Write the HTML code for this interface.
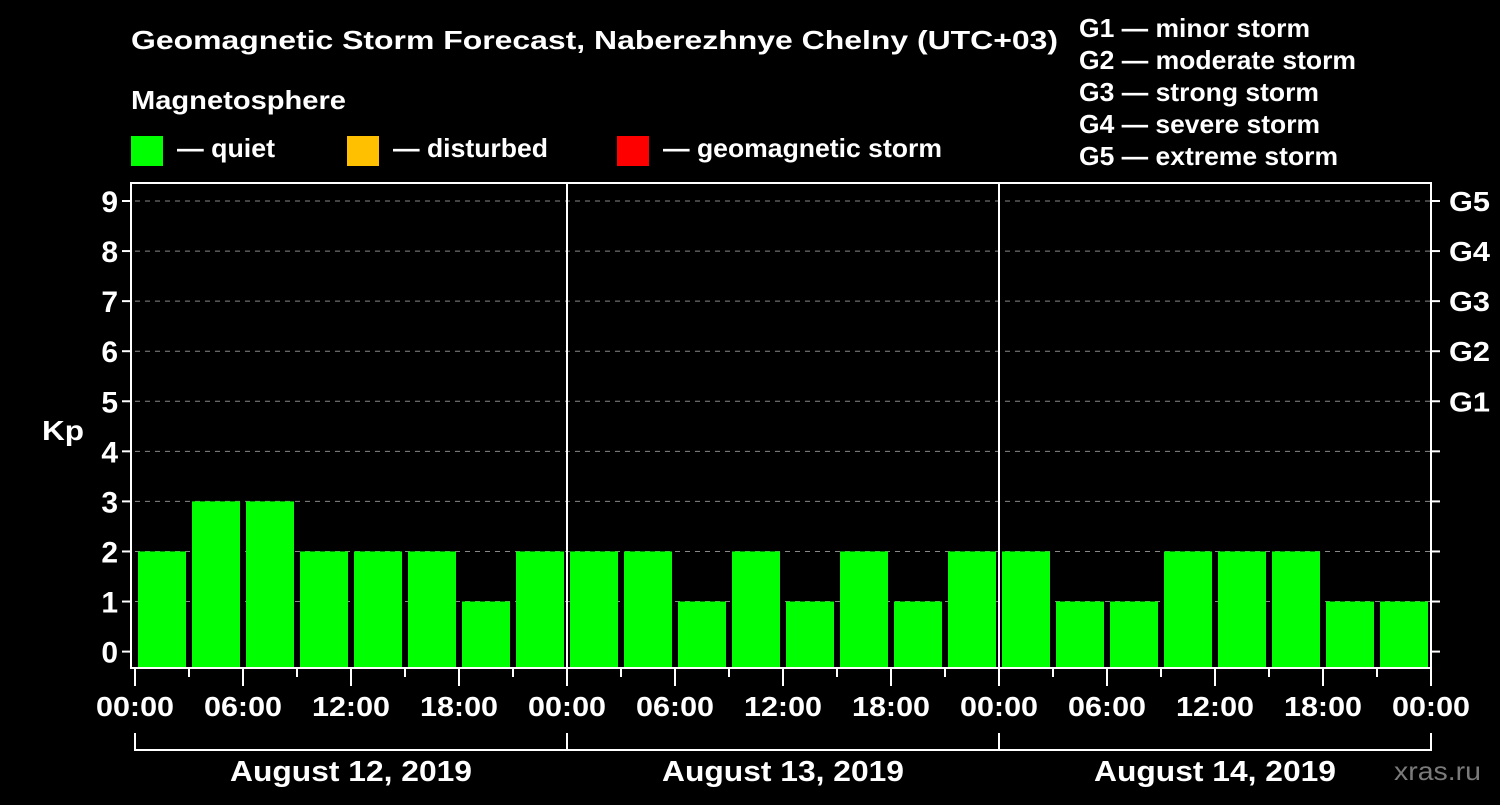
<!DOCTYPE html>
<html><head><meta charset="utf-8"><style>
body{margin:0;background:#000;}
svg text{font-family:"Liberation Sans",Arial,sans-serif;font-weight:bold;fill:#fff;}
</style></head><body>
<svg id="c" width="1500" height="800" xmlns="http://www.w3.org/2000/svg">
<rect width="1500" height="800" fill="#000"/>
<text x="131" y="49" font-size="26" textLength="927" lengthAdjust="spacingAndGlyphs">Geomagnetic Storm Forecast, Naberezhnye Chelny (UTC+03)</text>
<text x="131" y="109" font-size="26" textLength="215" lengthAdjust="spacingAndGlyphs">Magnetosphere</text>
<g><rect x="131" y="136" width="32" height="30" fill="#00ff00"/><text x="177" y="157" font-size="26" textLength="98" lengthAdjust="spacingAndGlyphs">— quiet</text></g>
<g><rect x="347" y="136" width="32" height="30" fill="#ffc000"/><text x="393" y="157" font-size="26" textLength="155" lengthAdjust="spacingAndGlyphs">— disturbed</text></g>
<g><rect x="617" y="136" width="32" height="30" fill="#ff0000"/><text x="663" y="157" font-size="26" textLength="279" lengthAdjust="spacingAndGlyphs">— geomagnetic storm</text></g>
<g font-size="26">
<text x="1079" y="37" textLength="231" lengthAdjust="spacingAndGlyphs">G1 — minor storm</text>
<text x="1079" y="69" textLength="277" lengthAdjust="spacingAndGlyphs">G2 — moderate storm</text>
<text x="1079" y="101" textLength="240" lengthAdjust="spacingAndGlyphs">G3 — strong storm</text>
<text x="1079" y="133" textLength="241" lengthAdjust="spacingAndGlyphs">G4 — severe storm</text>
<text x="1079" y="165" textLength="259" lengthAdjust="spacingAndGlyphs">G5 — extreme storm</text>
</g>
<text x="42" y="440" font-size="28" textLength="42" lengthAdjust="spacingAndGlyphs">Kp</text>
<text x="1394" y="780" font-size="26" textLength="87" lengthAdjust="spacingAndGlyphs" style="fill:#7a7a7a;font-weight:normal">xras.ru</text>
<g id="plot"></g>
</svg>
<script>
const days = ["August 12, 2019","August 13, 2019","August 14, 2019"];
const kpValues = [2,3,3,2,2,2,1,2, 2,2,1,2,1,2,1,2, 2,1,1,2,2,2,1,1];
const yTicks = [0,1,2,3,4,5,6,7,8,9];
const gLabels = ["G1","G2","G3","G4","G5"];
const gLevels = [5,6,7,8,9];
const hourLabels = ["00:00","06:00","12:00","18:00"];

const NS="http://www.w3.org/2000/svg";
const g=document.getElementById('plot');
const X0=135, X1=1431, TOP=183, BOT=668;
const xs=i=>X0+(X1-X0)*i/kpValues.length;
const ys=v=>651.6-v*(651.6-201)/9;
function el(t,a,p){const e=document.createElementNS(NS,t);for(const k in a)e.setAttribute(k,a[k]);(p||g).appendChild(e);return e;}

yTicks.forEach(v=>{
  if(v>0){const l=el('line',{x1:X0,x2:X1,y1:ys(v),y2:ys(v),stroke:'#888','stroke-dasharray':'5,5','stroke-width':1});
  
  }
  const t=el('line',{x1:122,x2:131,y1:ys(v),y2:ys(v),stroke:'#fff','stroke-width':2});
  
  
  const r=el('line',{x1:X1,x2:X1+9,y1:ys(v),y2:ys(v),stroke:'#fff','stroke-width':2});
  
  
  const tx=el('text',{x:118,y:ys(v)+11,'font-size':30,'text-anchor':'end'});
  tx.textContent=v;
  
  
});
gLabels.forEach((lab,i)=>{
  const tx=el('text',{x:1449,y:ys(gLevels[i])+10,'font-size':28,textLength:41,lengthAdjust:'spacingAndGlyphs'});
  tx.textContent=lab;
  
  
});
const slot=(X1-X0)/kpValues.length;
kpValues.forEach((v,i)=>{
  const col=v>=5?'#ff0000':(v>=4?'#ffc000':'#00ff00');
  const b=el('rect',{x:xs(i)+3,y:ys(v),width:slot-6,height:BOT-ys(v),fill:col});
  
  
});
const f=el('rect',{x:131,y:TOP,width:X1-131,height:BOT-TOP,fill:'none',stroke:'#fff','stroke-width':2});


const ticks=kpValues.length;
for(let d=1;d<days.length;d++){
  const x=X0+(X1-X0)*d/days.length;
  const l=el('line',{x1:x,x2:x,y1:TOP,y2:BOT,stroke:'#fff','stroke-width':2});
  
  
}
for(let i=0;i<=ticks;i++){
  const x=xs(i);
  const major=i%2===0;
  const t=el('line',{x1:x,x2:x,y1:BOT,y2:major?686:677,stroke:'#fff','stroke-width':2});
  
  
  if(major){
    const tx=el('text',{x:x,y:716,'font-size':28,'text-anchor':'middle',textLength:78,lengthAdjust:'spacingAndGlyphs'});
    tx.textContent=hourLabels[(i/2)%4];
    
    
  }
}
days.forEach((d,i)=>{
  const a=X0+(X1-X0)*i/days.length, b=X0+(X1-X0)*(i+1)/days.length;
  const p=el('path',{d:`M${a},733V750H${b}V733`,stroke:'#fff','stroke-width':2,fill:'none'});
  
  
  const tx=el('text',{x:(a+b)/2,y:781,'font-size':29,'text-anchor':'middle',textLength:242,lengthAdjust:'spacingAndGlyphs'});
  tx.textContent=d;
  
  
});
</script>
</body></html>
